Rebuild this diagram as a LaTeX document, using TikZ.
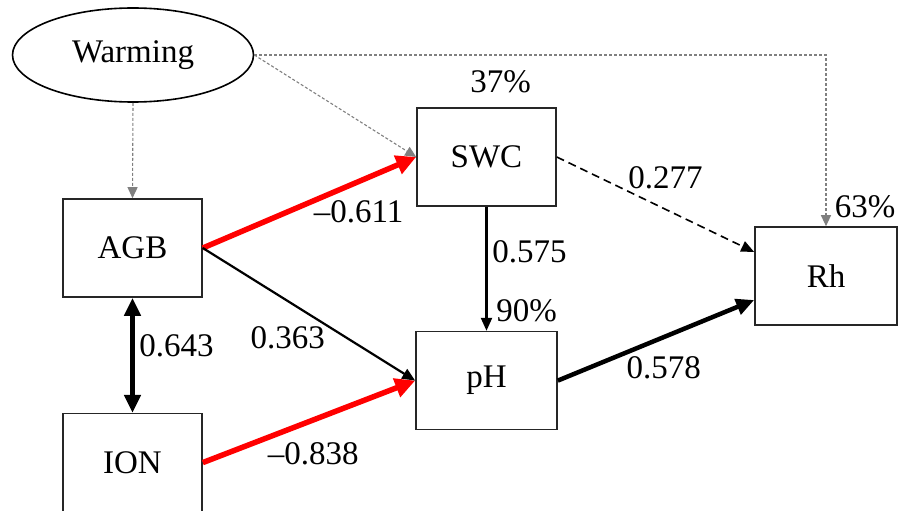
\documentclass[tikz,border=0pt]{standalone}
\usepackage{fontspec}
\setmainfont{Liberation Serif}
\usetikzlibrary{arrows.meta,shapes.geometric,positioning}

\begin{document}
\begin{tikzpicture}[x=1pt,y=-1pt,>=Stealth,semithick,
                    font=\fontsize{33}{40}\selectfont]
  \tikzstyle{box}=[draw=black!85,line width=1.6pt,minimum width=139pt,
                   minimum height=98pt,inner sep=0pt]
  \tikzstyle{warm}=[gray,line width=1.1pt,dash pattern=on 3pt off 2pt,
                    -{Triangle[length=11pt,width=10pt]}]
  \tikzstyle{neg}=[red,text=black,line width=5.5pt,
                   -{Triangle[length=20pt,width=19pt]}]
  \tikzstyle{posthin}=[black,line width=2.2pt,-{Triangle[length=13pt,width=11pt]}]
  \tikzstyle{posthick}=[black,line width=4.5pt,-{Triangle[length=18pt,width=16pt]}]
  \tikzstyle{nonsig}=[black,line width=1.6pt,dash pattern=on 8pt off 5pt,
                      -{Triangle[length=13pt,width=11pt]}]

  \useasboundingbox (0,0) rectangle (898,511);

  \node[ellipse,draw,line width=1.6pt,minimum width=241pt,minimum height=94pt,
        inner sep=0pt] (warming) at (133,55) {Warming};

  \node[box] (agb) at (132.5,248) {AGB};
  \node[box] (ion) [below=115pt of agb] {ION};

  \node[box] (swc) at (486.5,157) {SWC};
  \node[box,minimum width=141pt] (ph) [below=124pt of swc] {pH};

  \node[box,minimum width=142pt] (rh) at (826,276) {Rh};

  % explained variance
  \node (r2swc) at ([xshift=14pt,yshift=25pt]swc.north) {37\%};
  \node (r2ph) at ([xshift=40pt,yshift=20pt]ph.north) {90\%};
  \node (r2rh) at ([xshift=39pt,yshift=19pt]rh.north) {63\%};

  % warming effects
  \draw[warm] (warming.south) -- (agb.north);
  \draw[warm] (warming.east) -- (swc.west);
  \draw[warm] (warming.east) -| (rh.north);

  \path
    (agb.east) edge[neg] node[pos=.73,yshift=-30pt] {\textendash0.611} (swc.west)
    (ion.east) edge[neg] node[pos=.52,yshift=-34pt] {\textendash0.838} (ph.west)
    (agb.east) edge[posthin] node[pos=.4,yshift=-37pt] {0.363} (ph.west)
    (swc.south) edge[posthin] node[pos=.36,xshift=43pt] {0.575} (ph.north)
    (swc.east) edge[nonsig] node[pos=.55,yshift=31pt] {0.277} ([yshift=24pt]rh.west)
    (ph.east) edge[posthick] node[pos=.54,yshift=-31pt] {0.578} ([yshift=-24pt]rh.west)
    (agb.south) edge[posthick,{Triangle[length=18pt,width=16pt]}-{Triangle[length=18pt,width=16pt]}]
      node[pos=.42,xshift=44pt] {0.643} (ion.north)
  ;

\end{tikzpicture}
\end{document}
